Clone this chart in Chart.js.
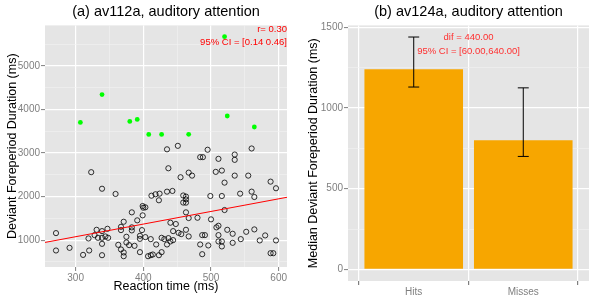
<!DOCTYPE html>
<html>
<head>
<meta charset="utf-8">
<script src="https://cdn.jsdelivr.net/npm/chart.js@4"></script>
<style>
body { margin: 0; background: #fff; }
.wrap { display: flex; width: 600px; height: 300px; }
canvas { display: block; }
</style>
</head>
<body>
<div class="wrap">
  <canvas id="chartA" width="300" height="300"></canvas>
  <canvas id="chartB" width="300" height="300"></canvas>
</div>
<script>
// (a) scatter: reaction time vs deviant foreperiod duration
const rtMs = [323,339,359,412,418,424,435,437,435,443,451,455,459,463,467,472,484,488,495,499,507,511,516,516,520,535,535,535,543,555,560,560,564,588,596,
  383,399,400,399,403,423,459,463,463,463,467,480,500,520,
  271,319,328,331,333,339,339,344,348,347,367,367,371,375,383,383,391,395,395,398,403,411,427,431,437,440,448,444,444,452,456,463,467,487,491,508,511,511,524,532,544,552,564,572,580,596,
  271,291,311,320,339,339,363,367,371,371,375,379,387,395,407,411,414,419,423,427,435,440,484,487,496,511,516,516,532,588,592];
const durMs = [2560,2180,2060,2020,2053,2067,3085,2650,2113,2129,3165,2444,2025,2000,2550,2481,2905,2905,3075,2013,2567,2866,2597,2013,2320,2965,2843,2481,2067,2481,3104,2113,1990,2343,2191,
  1638,1783,1744,1569,1753,1915,1862,1935,1860,1638,1507,1514,1477,1691,
  1161,1039,1115,1237,1053,1207,1053,1084,1053,1260,1230,1306,1422,1077,1293,1223,1454,1099,1030,1230,1069,1023,1053,1023,1046,1400,1370,1207,1000,1168,1138,1237,1085,1115,1115,1293,1330,1115,1237,1146,1023,1191,1246,993,1108,993,
  762,823,661,762,915,654,892,786,717,631,946,885,869,724,631,654,670,900,654,724,900,970,900,677,878,970,970,855,938,700,700];
const outlierRt = [307,339,380,391,408,427,467,520,524,564];
const outlierDur = [3703,4341,3726,3772,3426,3426,3430,5670,3850,3597];
const fitRt = [254.75, 612.25];
const fitDur = [947, 1984];
const xTicksA = [300, 350, 400, 450, 500, 550, 600];
const xMajorA = [300, 400, 500, 600];
const yTicksA = [500, 1000, 1500, 2000, 2500, 3000, 3500, 4000, 4500, 5000, 5500];
const yMajorA = [1000, 2000, 3000, 4000, 5000];
const statTextA = ['r= 0.30', '95% CI = [0.14 0.46]'];

// (b) bars: median durations with CI
const barLabels = ['Hits', 'Misses'];
const barMedians = [1240, 800];
const ciLow = [1130, 700];
const ciHigh = [1440, 1125];
const yTicksB = [0, 250, 500, 750, 1000, 1250, 1500];
const yMajorB = [0, 500, 1000, 1500];
const statTextB = ['dif = 440.00', '95% CI = [60.00,640.00]'];

Chart.defaults.font.family = "'Liberation Sans', Arial, sans-serif";
Chart.defaults.animation = false;

const panelBg = {
  id: 'panelBg',
  beforeDraw(chart) {
    const a = chart.chartArea, ctx = chart.ctx;
    ctx.save();
    ctx.fillStyle = '#E5E5E5';
    ctx.fillRect(a.left, a.top, a.right - a.left, a.bottom - a.top);
    ctx.restore();
  }
};

function gridOpts(major) {
  return {
    color: c => major.includes(c.tick && c.tick.value) ? '#FFFFFF' : '#F2F2F2',
    lineWidth: c => major.includes(c.tick && c.tick.value) ? 1.2 : 0.6,
    tickColor: c => major.includes(c.tick && c.tick.value) ? '#7F7F7F' : 'rgba(0,0,0,0)',
    tickLength: 4,
    tickWidth: 1
  };
}

const tickFont = { size: 10 };
const tickColor = '#7F7F7F';

new Chart(document.getElementById('chartA'), {
  type: 'scatter',
  data: {
    datasets: [
      {
        type: 'line',
        data: fitRt.map((x, i) => ({ x: x, y: fitDur[i] })),
        borderColor: '#FF0000',
        borderWidth: 1,
        pointRadius: 0,
        fill: false,
        order: 0
      },
      {
        data: outlierRt.map((x, i) => ({ x: x, y: outlierDur[i] })),
        backgroundColor: '#00FF00',
        borderColor: '#00FF00',
        pointRadius: 2.4,
        borderWidth: 0,
        order: 1
      },
      {
        data: rtMs.map((x, i) => ({ x: x, y: durMs[i] })),
        backgroundColor: 'rgba(0,0,0,0)',
        borderColor: '#000000',
        pointRadius: 2.6,
        borderWidth: 0.8,
        order: 2
      }
    ]
  },
  options: {
    responsive: false,
    layout: { padding: { left: 0, right: 13, top: 0, bottom: 0 } },
    plugins: {
      legend: { display: false },
      tooltip: { enabled: false },
      title: {
        display: true,
        fullSize: false,
        text: '(a) av112a, auditory attention',
        color: '#000',
        font: { size: 14.5, weight: 'normal' },
        padding: { top: 3, bottom: 5 }
      }
    },
    scales: {
      x: {
        type: 'linear',
        min: 254.75,
        max: 612.25,
        afterBuildTicks: s => { s.ticks = xTicksA.map(v => ({ value: v })); },
        afterFit: s => { s.height = 33; },
        border: { display: false },
        grid: gridOpts(xMajorA),
        ticks: {
          autoSkip: false, maxRotation: 0, padding: 1,
          color: tickColor, font: tickFont,
          callback: v => xMajorA.includes(v) ? String(v) : ''
        },
        title: {
          display: true, text: 'Reaction time (ms)', color: '#000',
          font: { size: 12.5 }, padding: { top: 0, bottom: 6 }
        }
      },
      y: {
        type: 'linear',
        min: 383,
        max: 5930,
        afterBuildTicks: s => { s.ticks = yTicksA.map(v => ({ value: v })); },
        afterFit: s => { s.width = 45; },
        border: { display: false },
        grid: gridOpts(yMajorA),
        ticks: {
          autoSkip: false, padding: 1,
          color: tickColor, font: tickFont,
          callback: v => yMajorA.includes(v) ? String(v) : ''
        },
        title: {
          display: true, text: 'Deviant Foreperiod Duration (ms)', color: '#000',
          font: { size: 12.5 }, padding: { top: 5, bottom: 0 }
        }
      }
    }
  },
  plugins: [panelBg, {
    id: 'statsA',
    afterDraw(chart) {
      const a = chart.chartArea, ctx = chart.ctx;
      ctx.save();
      ctx.fillStyle = '#FF0000';
      ctx.font = "9.5px 'Liberation Sans', Arial, sans-serif";
      ctx.textAlign = 'right';
      ctx.textBaseline = 'middle';
      ctx.fillText(statTextA[0], a.right, a.top + 4);
      ctx.fillText(statTextA[1], a.right, a.top + 17);
      ctx.restore();
    }
  }]
});

new Chart(document.getElementById('chartB'), {
  type: 'bar',
  data: {
    datasets: [{
      data: barMedians.map((v, i) => ({ x: i + 1, y: v })),
      backgroundColor: '#F7A600',
      borderWidth: 0,
      barPercentage: 0.9,
      categoryPercentage: 1
    }]
  },
  options: {
    responsive: false,
    layout: { padding: { left: 0, right: 11, top: 0, bottom: 0 } },
    plugins: {
      legend: { display: false },
      tooltip: { enabled: false },
      title: {
        display: true,
        fullSize: false,
        text: '(b) av124a, auditory attention',
        color: '#000',
        font: { size: 14.5, weight: 'normal' },
        padding: { top: 3, bottom: 5 }
      }
    },
    scales: {
      x: {
        type: 'linear',
        offset: false,
        min: 0.4,
        max: 2.6,
        afterBuildTicks: s => { s.ticks = barLabels.map((l, i) => ({ value: i + 1 })); },
        afterFit: s => { s.height = 19; },
        border: { display: false },
        grid: {
          color: '#FFFFFF', lineWidth: 1.2, tickColor: '#7F7F7F', tickLength: 4
        },
        ticks: {
          autoSkip: false, maxRotation: 0, padding: 1,
          color: tickColor, font: tickFont,
          callback: v => barLabels[v - 1]
        }
      },
      y: {
        type: 'linear',
        min: -72,
        max: 1512,
        afterBuildTicks: s => { s.ticks = yTicksB.map(v => ({ value: v })); },
        afterFit: s => { s.width = 48; },
        border: { display: false },
        grid: gridOpts(yMajorB),
        ticks: {
          autoSkip: false, padding: 1,
          color: tickColor, font: tickFont,
          callback: v => yMajorB.includes(v) ? String(v) : ''
        },
        title: {
          display: true, text: 'Median Deviant Foreperiod Duration (ms)', color: '#000',
          font: { size: 12.5 }, padding: { top: 6, bottom: 0 }
        }
      }
    }
  },
  plugins: [panelBg, {
    id: 'errorBars',
    afterDatasetsDraw(chart) {
      const xs = chart.scales.x, ys = chart.scales.y, ctx = chart.ctx;
      ctx.save();
      ctx.strokeStyle = '#000';
      ctx.lineWidth = 1;
      barLabels.forEach((l, i) => {
        const x = xs.getPixelForValue(i + 1);
        const half = xs.getPixelForValue(i + 1.05) - x;
        const yl = ys.getPixelForValue(ciLow[i]);
        const yh = ys.getPixelForValue(ciHigh[i]);
        ctx.beginPath();
        ctx.moveTo(x, yl); ctx.lineTo(x, yh);
        ctx.moveTo(x - half, yl); ctx.lineTo(x + half, yl);
        ctx.moveTo(x - half, yh); ctx.lineTo(x + half, yh);
        ctx.stroke();
      });
      ctx.restore();
    },
    afterDraw(chart) {
      const a = chart.chartArea, ctx = chart.ctx;
      const cx = (a.left + a.right) / 2;
      ctx.save();
      ctx.fillStyle = '#FF3030';
      ctx.font = "9.5px 'Liberation Sans', Arial, sans-serif";
      ctx.textAlign = 'center';
      ctx.textBaseline = 'middle';
      ctx.fillText(statTextB[0], cx, a.top + 12);
      ctx.fillText(statTextB[1], cx, a.top + 26);
      ctx.restore();
    }
  }]
});
</script>
</body>
</html>
